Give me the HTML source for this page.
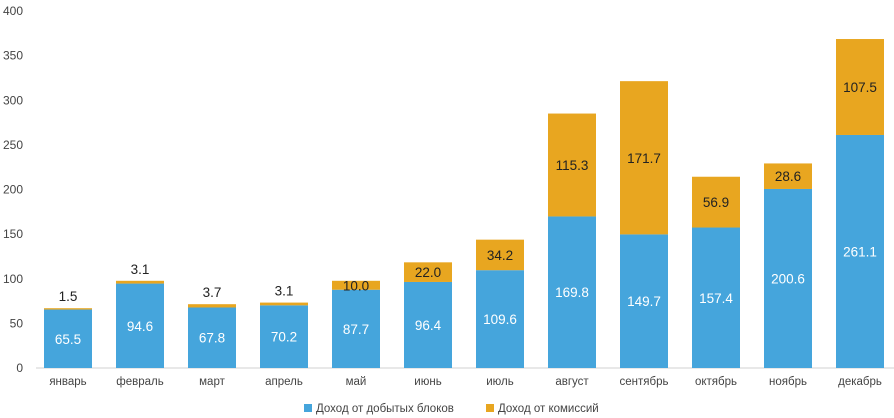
<!DOCTYPE html>
<html><head><meta charset="utf-8"><style>
html,body{margin:0;padding:0;background:#fff;overflow:hidden}
svg{display:block}
svg text{font-family:"Liberation Sans",sans-serif}
</style></head><body>
<svg id="chart" width="894" height="418" xmlns="http://www.w3.org/2000/svg"></svg>
<script>
const categories=["январь","февраль","март","апрель","май","июнь","июль","август","сентябрь","октябрь","ноябрь","декабрь"];
const blockValues=[65.5,94.6,67.8,70.2,87.7,96.4,109.6,169.8,149.7,157.4,200.6,261.1];
const feeValues=[1.5,3.1,3.7,3.1,10.0,22.0,34.2,115.3,171.7,56.9,28.6,107.5];
const yTicks=[0,50,100,150,200,250,300,350,400];
const svg=document.getElementById('chart');
const NS='http://www.w3.org/2000/svg';
const y0=368,pxPer=0.8925,x0=32,step=72,bw=48;
const y=v=>y0-v*pxPer;
const xc=i=>x0+step*i+step/2;
function mk(tag,attrs,txt){const e=document.createElementNS(NS,tag);for(const k in attrs)e.setAttribute(k,attrs[k]);if(txt!=null)e.textContent=txt;svg.appendChild(e);return e;}
yTicks.forEach(t=>{const e=mk('text',{x:23,y:y(t)+4,'text-anchor':'end','font-size':12,fill:'#444'},t);

});
const ax=mk('line',{x1:36,x2:894,y1:y0,y2:y0,stroke:'#d0d0d0','stroke-width':1});


categories.forEach((c,i)=>{
 const cx=xc(i),b=blockValues[i],f=feeValues[i];
 const r1=mk('rect',{x:cx-bw/2,y:y(b),width:bw,height:b*pxPer,fill:'#45a5dc'});
 
 
 const r2=mk('rect',{x:cx-bw/2,y:y(b+f),width:bw,height:f*pxPer,fill:'#e8a620'});
 
 
 const l1=mk('text',{x:cx,y:y(b/2)+5,'text-anchor':'middle','font-size':13.5,fill:'#fff'},b.toFixed(1));
 
 
 const fy=f<5?y(b+f)-7:y(b+f/2)+5;
 const l2=mk('text',{x:cx,y:fy,'text-anchor':'middle','font-size':13.5,fill:'#222'},f.toFixed(1));
 
 
 const cl=mk('text',{x:cx,y:385,'text-anchor':'middle','font-size':11.5,fill:'#444'},c);
 
 
});
const lg1=mk('rect',{x:304,y:404,width:8,height:8,fill:'#45a5dc'});


const lt1=mk('text',{x:316,y:412,'font-size':11.5,fill:'#444'},'Доход от добытых блоков');


const lg2=mk('rect',{x:486,y:404,width:8,height:8,fill:'#e8a620'});


const lt2=mk('text',{x:498,y:412,'font-size':11.5,fill:'#444'},'Доход от комиссий');


</script>
</body></html>
